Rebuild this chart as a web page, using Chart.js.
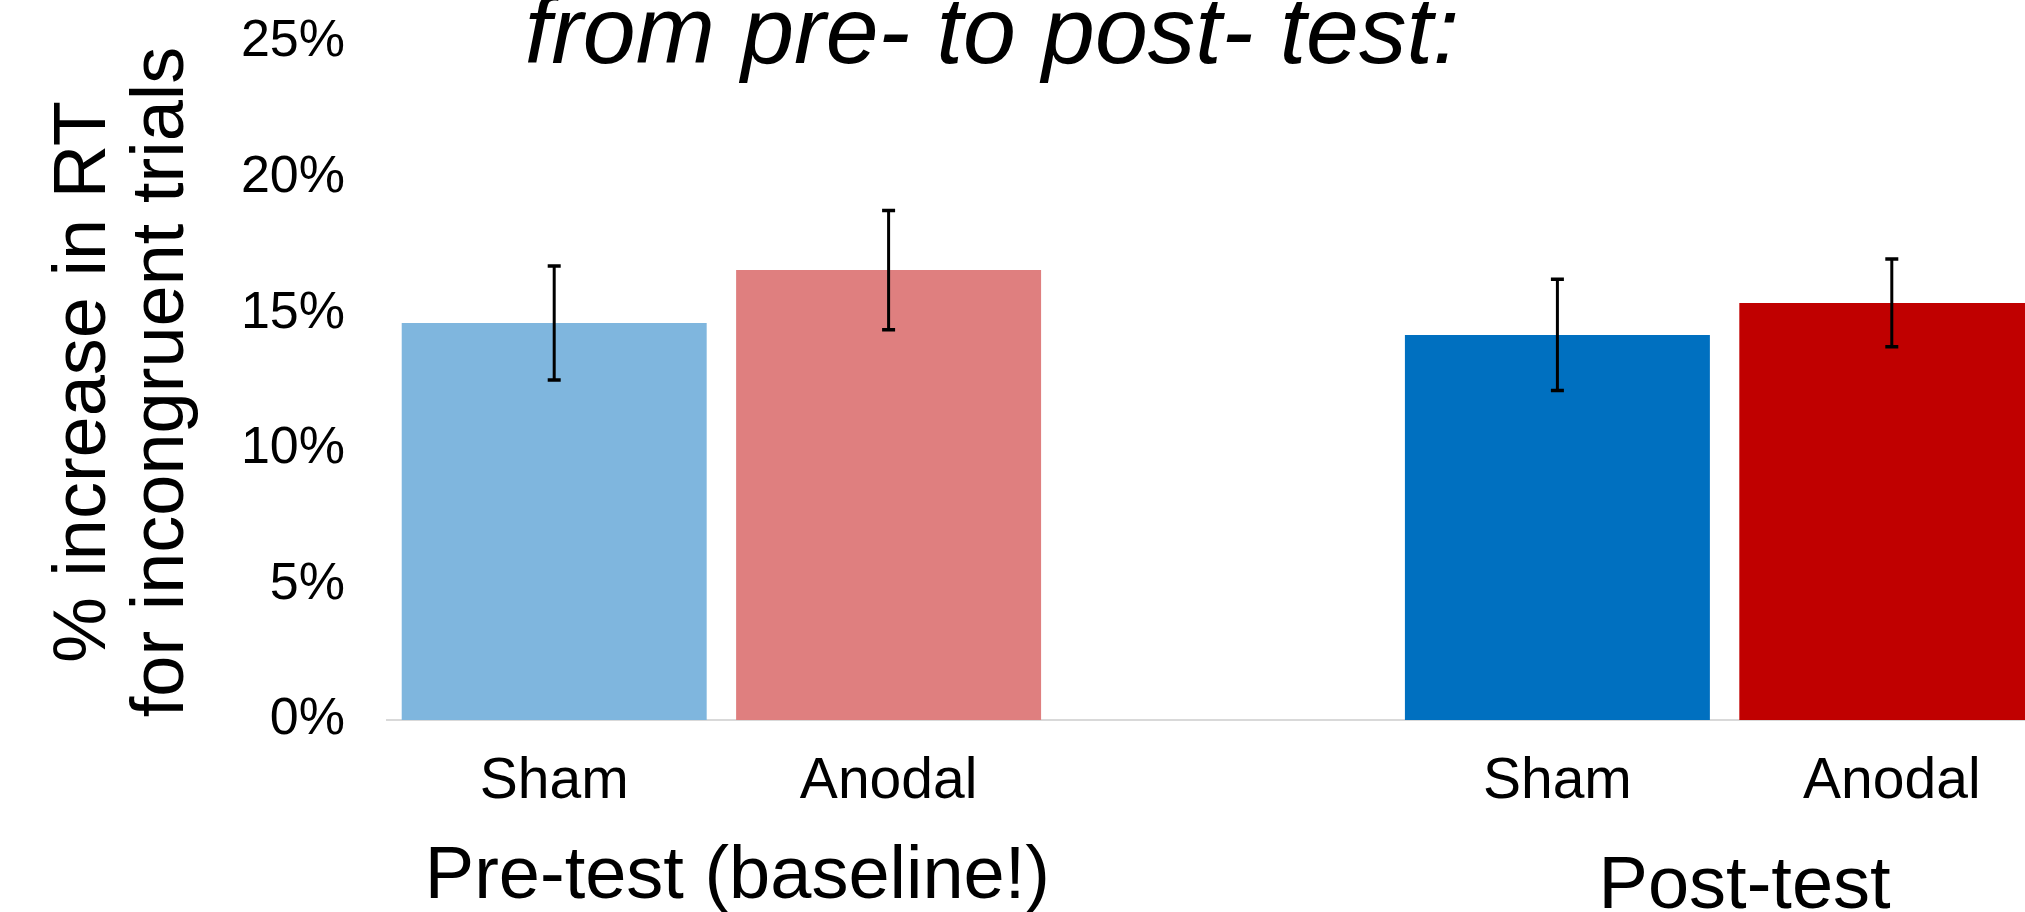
<!DOCTYPE html>
<html>
<head>
<meta charset="utf-8">
<script src="https://cdn.jsdelivr.net/npm/chart.js@4"></script>
<style>
  html, body { margin: 0; padding: 0; background: #ffffff; overflow: hidden; }
  #wrap { width: 2060px; height: 912px; }
</style>
</head>
<body>
<div id="wrap"><canvas id="rt" width="2060" height="912"></canvas></div>
<script>
// Test phases and stimulation conditions
const groups = ['Pre-test (baseline!)', 'Post-test'];
const conditions = ['Sham', 'Anodal'];

// Mean % increase in RT for incongruent trials: Pre Sham, Pre Anodal, Post Sham, Post Anodal
const meanIncrease = [14.64, 16.59, 14.2, 15.38];
// Error bar half-lengths (same order)
const errorSize = [2.1, 2.2, 2.05, 1.62];

// Y axis ticks (percent)
const yTicks = [0, 5, 10, 15, 20, 25];

const barColors = ['#7fb6de', '#df7f7f', '#0070c0', '#c00000'];

const FONT = "'Liberation Sans', Arial, Helvetica, sans-serif";

// Five slots: two bars per phase with an empty slot between the phases
const slotLabels = [conditions[0], conditions[1], '', conditions[0], conditions[1]];
const slotValues = [meanIncrease[0], meanIncrease[1], null, meanIncrease[2], meanIncrease[3]];
const slotErrors = [errorSize[0], errorSize[1], null, errorSize[2], errorSize[3]];
const slotColors = [barColors[0], barColors[1], 'rgba(0,0,0,0)', barColors[2], barColors[3]];

function noEdgePadding(scale) {
  scale.paddingTop = 0;
  scale.paddingBottom = 0;
  scale.paddingLeft = 0;
  scale.paddingRight = 0;
}

const decorations = {
  id: 'decorations',
  afterDatasetsDraw(chart) {
    const ctx = chart.ctx;
    const y = chart.scales.y;
    const meta = chart.getDatasetMeta(0);
    ctx.save();
    ctx.strokeStyle = '#000000';
    meta.data.forEach((bar, i) => {
      const v = slotValues[i];
      const e = slotErrors[i];
      if (v === null || e === null) return;
      const top = y.getPixelForValue(v + e);
      const bot = y.getPixelForValue(v - e);
      ctx.lineWidth = 3;
      ctx.beginPath();
      ctx.moveTo(bar.x, top);
      ctx.lineTo(bar.x, bot);
      ctx.stroke();
      ctx.lineWidth = 3.5;
      ctx.beginPath();
      ctx.moveTo(bar.x - 6.5, top);
      ctx.lineTo(bar.x + 6.5, top);
      ctx.moveTo(bar.x - 6.5, bot);
      ctx.lineTo(bar.x + 6.5, bot);
      ctx.stroke();
    });
    ctx.restore();
  },
  afterDraw(chart) {
    const ctx = chart.ctx;
    const x = chart.scales.x;
    const area = chart.chartArea;
    ctx.save();
    ctx.fillStyle = '#000000';

    // Heading (runs off the top edge)
    ctx.font = 'italic 95px ' + FONT;
    ctx.textAlign = 'center';
    ctx.textBaseline = 'alphabetic';
    ctx.fillText('from pre- to post- test:', 992, 63);

    // Y axis title, two rotated lines
    ctx.save();
    ctx.translate(0, (area.top + area.bottom) / 2 + 1);
    ctx.rotate(-Math.PI / 2);
    ctx.font = '74px ' + FONT;
    ctx.textAlign = 'center';
    ctx.textBaseline = 'alphabetic';
    ctx.fillText('% increase in RT', 0, 105);
    ctx.fillText('for incongruent trials', 0, 183);
    ctx.restore();

    // Phase labels under each pair of bars
    ctx.font = '74px ' + FONT;
    ctx.textAlign = 'center';
    ctx.textBaseline = 'alphabetic';
    const preMid = (x.getPixelForValue(0) + x.getPixelForValue(1)) / 2;
    const postMid = (x.getPixelForValue(3) + x.getPixelForValue(4)) / 2;
    ctx.fillText(groups[0], preMid + 16, 898);
    ctx.fillText(groups[1], postMid + 20, 908);
    ctx.restore();
  }
};

new Chart(document.getElementById('rt'), {
  type: 'bar',
  data: {
    labels: slotLabels,
    datasets: [{
      data: slotValues,
      backgroundColor: slotColors,
      borderWidth: 0,
      barPercentage: 0.912,
      categoryPercentage: 1.0
    }]
  },
  options: {
    responsive: false,
    devicePixelRatio: 1,
    animation: false,
    layout: { padding: { top: 42, right: 1, left: 0, bottom: 0 } },
    plugins: {
      legend: { display: false },
      title: { display: false },
      tooltip: { enabled: false }
    },
    scales: {
      x: {
        grid: { display: false, drawTicks: false, tickLength: 0 },
        border: { display: true, color: '#d9d9d9', width: 2 },
        ticks: {
          color: '#000000',
          font: { family: FONT, size: 57 },
          padding: 28,
          autoSkip: false,
          maxRotation: 0,
          minRotation: 0
        },
        afterFit(scale) { scale.height = 192; noEdgePadding(scale); }
      },
      y: {
        min: yTicks[0],
        max: yTicks[yTicks.length - 1],
        grid: { display: false, drawTicks: false, tickLength: 0 },
        border: { display: false },
        afterBuildTicks(scale) { scale.ticks = yTicks.map(v => ({ value: v })); },
        ticks: {
          color: '#000000',
          font: { family: FONT, size: 52 },
          padding: 42,
          callback: v => v + '%'
        },
        afterFit(scale) { scale.width = 387; noEdgePadding(scale); }
      }
    }
  },
  plugins: [decorations]
});
</script>
</body>
</html>
